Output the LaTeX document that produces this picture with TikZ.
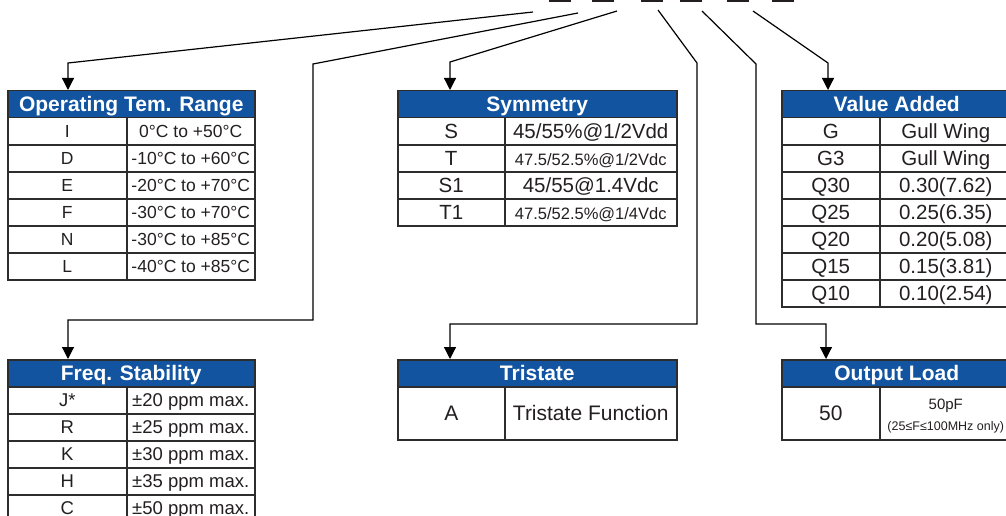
\documentclass[tikz,border=0pt]{standalone}
\usepackage{fontspec}
\setmainfont{Liberation Sans}
\usetikzlibrary{arrows.meta}
\definecolor{hdrblue}{RGB}{18,84,160}
\definecolor{ink}{RGB}{35,31,32}
\definecolor{rulegray}{RGB}{45,45,45}
\newcommand\fs[1]{\fontsize{#1}{#1}\selectfont}
\def\cellsize{18}
\tikzset{
  hdr/.style={draw=rulegray, line width=1.5pt, fill=hdrblue, text=white, node font=\fs{21}\bfseries,
    inner sep=0pt, minimum height=27pt, text height=0.72em, text depth=0pt, anchor=north west},
  cell/.style={draw=rulegray, line width=1.5pt, text=ink, node font=\fs{\cellsize}, inner sep=0pt,
    text height=0.72em, text depth=0pt, anchor=north west},
  lead/.style={line width=1.2pt, -{Triangle[length=12pt,width=12pt]}},
  blank/.style={fill=ink, inner sep=0pt, minimum width=22pt, minimum height=5pt},
}
% name, left, divider, right, top, title, row height, rows
\newcommand\spectable[8]{%
  \node[hdr, minimum width=#4-#2] (#1h) at (#2,#5) {#6};
  \foreach \code/\val [count=\r] in {#8}{
    \node[cell, minimum width=#3-#2, minimum height=#7] (#1c\r) at (#2,{#5+27+(\r-1)*#7}) {\code};
    \node[cell, minimum width=#4-#3, minimum height=#7] (#1v\r) at (#3,{#5+27+(\r-1)*#7}) {\val};
  }}
\begin{document}
\begin{tikzpicture}[x=1pt,y=-1pt]
\path[use as bounding box, clip] (0,0) rectangle (1006,516);
\def\rowh{27}

\foreach \x [count=\i] in {560,603,652,691,738,783}
  \node[blank] (u\i) at (\x,-0.5) {};
\foreach \x/\y [count=\i] in {533/12,578/13,617/11,658/10,702/11,753/11}
  \coordinate (s\i) at (\x,\y);

\def\cellsize{17.5}
\spectable{op}{7}{126}{254}{90}{Operating Tem. Range}{\rowh}{I/0°C to +50°C, D/-10°C to +60°C,
  E/-20°C to +70°C, F/-30°C to +70°C, N/-30°C to +85°C, L/-40°C to +85°C}
\def\cellsize{20.5}
\spectable{sy}{397}{504}{676}{90}{Symmetry}{\rowh}{S/{45/55\%@1/2Vdd}, T/{\fs{16.5}47.5/52.5\%@1/2Vdc},
  S1/{45/55@1.4Vdc}, T1/{\fs{16.5}47.5/52.5\%@1/4Vdc}}
\spectable{va}{781}{879}{1011}{90}{Value Added}{\rowh}{G/Gull Wing, G3/Gull Wing, Q30/0.30(7.62),
  Q25/0.25(6.35), Q20/0.20(5.08), Q15/0.15(3.81), Q10/0.10(2.54)}
\def\cellsize{18.5}
\spectable{fr}{7}{126}{254}{359}{Freq. Stability}{\rowh}{J*/±20 ppm max., R/±25 ppm max.,
  K/±30 ppm max., H/±35 ppm max., C/±50 ppm max.}
\def\cellsize{21}
\spectable{tr}{397}{504}{676}{359}{Tristate}{53}{A/Tristate Function}
\spectable{ol}{781}{879}{1011}{359}{Output Load}{53}{50/{\begin{tabular}{@{}c@{}}\fontsize{15}{18}\selectfont 50pF\\
  \fontsize{12.5}{15}\selectfont(25≤F≤100MHz only)\end{tabular}}}

\coordinate (b1) at (68,63);
\coordinate (b2) at (313,64);
\coordinate (c2) at (68,320);
\coordinate (b3) at (450,62);
\coordinate (b4) at (697,63);
\coordinate (c4) at (450,324);
\coordinate (b5) at (756,64);
\coordinate (c5) at (826,324);
\coordinate (b6) at (828,63);

\draw[lead] (s1) -- (b1) -- (b1 |- oph.north);
\draw[lead] (s2) -- (b2) -- (b2 |- c2) -- (c2) -- (c2 |- frh.north);
\draw[lead] (s3) -- (b3) -- (b3 |- syh.north);
\draw[lead] (s4) -- (b4) -- (b4 |- c4) -- (c4) -- (c4 |- trh.north);
\draw[lead] (s5) -- (b5) -- (b5 |- c5) -- (c5) -- (c5 |- olh.north);
\draw[lead] (s6) -- (b6) -- (b6 |- vah.north);

\end{tikzpicture}
\end{document}
